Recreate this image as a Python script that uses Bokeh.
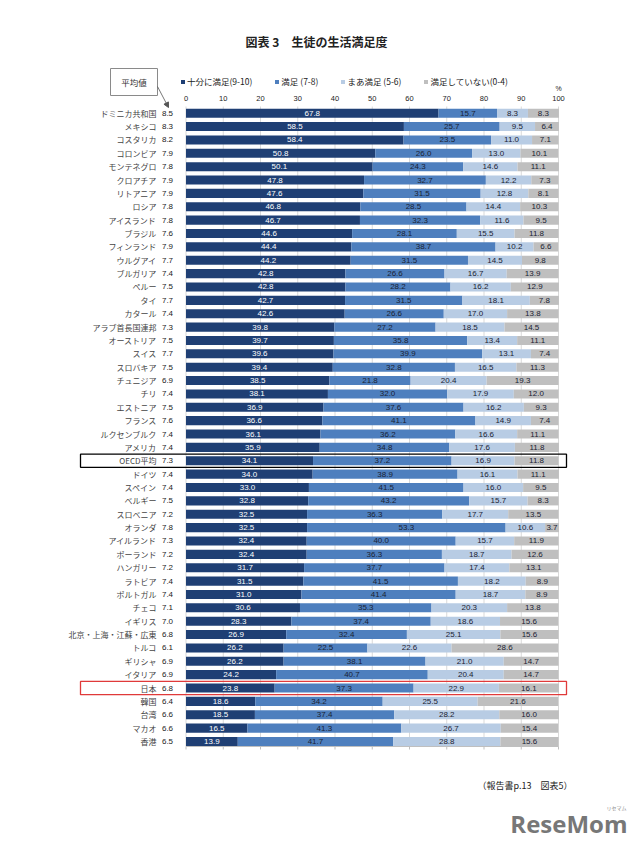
from bokeh.plotting import figure
from bokeh.models import ColumnDataSource, Range1d, Legend, LegendItem, Arrow, NormalHead
from bokeh.core.properties import value
from bokeh.embed import file_html
from bokeh.resources import INLINE

countries = ["ドミニカ共和国", "メキシコ", "コスタリカ", "コロンビア", "モンテネグロ", "クロアチア",
             "リトアニア", "ロシア", "アイスランド", "ブラジル", "フィンランド", "ウルグアイ",
             "ブルガリア", "ペルー", "タイ", "カタール", "アラブ首長国連邦", "オーストリア",
             "スイス", "スロバキア", "チュニジア", "チリ", "エストニア", "フランス",
             "ルクセンブルク", "アメリカ", "OECD平均", "ドイツ", "スペイン", "ベルギー",
             "スロベニア", "オランダ", "アイルランド", "ポーランド", "ハンガリー", "ラトビア",
             "ポルトガル", "チェコ", "イギリス", "北京・上海・江蘇・広東", "トルコ", "ギリシャ",
             "イタリア", "日本", "韓国", "台湾", "マカオ", "香港"]
avg = [8.5, 8.3, 8.2, 7.9, 7.8, 7.9, 7.9, 7.8, 7.8, 7.6, 7.9, 7.7, 7.4, 7.5, 7.7, 7.4,
       7.3, 7.5, 7.7, 7.5, 6.9, 7.4, 7.5, 7.6, 7.4, 7.4, 7.3, 7.4, 7.4, 7.5, 7.2, 7.8,
       7.3, 7.2, 7.2, 7.4, 7.4, 7.1, 7.0, 6.8, 6.1, 6.9, 6.9, 6.8, 6.4, 6.6, 6.6, 6.5]
very_satisfied = [67.8, 58.5, 58.4, 50.8, 50.1, 47.8, 47.6, 46.8, 46.7, 44.6, 44.4, 44.2,
                  42.8, 42.8, 42.7, 42.6, 39.8, 39.7, 39.6, 39.4, 38.5, 38.1, 36.9, 36.6,
                  36.1, 35.9, 34.1, 34.0, 33.0, 32.8, 32.5, 32.5, 32.4, 32.4, 31.7, 31.5,
                  31.0, 30.6, 28.3, 26.9, 26.2, 26.2, 24.2, 23.8, 18.6, 18.5, 16.5, 13.9]
satisfied = [15.7, 25.7, 23.5, 26.0, 24.3, 32.7, 31.5, 28.5, 32.3, 28.1, 38.7, 31.5,
             26.6, 28.2, 31.5, 26.6, 27.2, 35.8, 39.9, 32.8, 21.8, 32.0, 37.6, 41.1,
             36.2, 34.8, 37.2, 38.9, 41.5, 43.2, 36.3, 53.3, 40.0, 36.3, 37.7, 41.5,
             41.4, 35.3, 37.4, 32.4, 22.5, 38.1, 40.7, 37.3, 34.2, 37.4, 41.3, 41.7]
moderately = [8.3, 9.5, 11.0, 13.0, 14.6, 12.2, 12.8, 14.4, 11.6, 15.5, 10.2, 14.5,
              16.7, 16.2, 18.1, 17.0, 18.5, 13.4, 13.1, 16.5, 20.4, 17.9, 16.2, 14.9,
              16.6, 17.6, 16.9, 16.1, 16.0, 15.7, 17.7, 10.6, 15.7, 18.7, 17.4, 18.2,
              18.7, 20.3, 18.6, 25.1, 22.6, 21.0, 20.4, 22.9, 25.5, 28.2, 26.7, 28.8]
not_satisfied = [8.3, 6.4, 7.1, 10.1, 11.1, 7.3, 8.1, 10.3, 9.5, 11.8, 6.6, 9.8,
                 13.9, 12.9, 7.8, 13.8, 14.5, 11.1, 7.4, 11.3, 19.3, 12.0, 9.3, 7.4,
                 11.1, 11.8, 11.8, 11.1, 9.5, 8.3, 13.5, 3.7, 11.9, 12.6, 13.1, 8.9,
                 8.9, 13.8, 15.6, 15.6, 28.6, 14.7, 14.7, 16.1, 21.6, 16.0, 15.4, 15.6]
series_names = ["十分に満足(9-10)", "満足 (7-8)", "まあ満足 (5-6)", "満足していない(0-4)"]
ticks = [0, 10, 20, 30, 40, 50, 60, 70, 80, 90, 100]

# ---- layout helpers (screen pixel -> data coordinates) ----
W, H = 630, 835
X0_IMG, X100_IMG = 185.5, 558.0
SX = (X100_IMG - X0_IMG) / 100.0
n = len(countries)
ROW0_IMG, ROWN_IMG = 112.7, 741.0
SY = (ROWN_IMG - ROW0_IMG) / (n - 1)


def dx(ximg):
    return (ximg - X0_IMG) / SX


def dy(yimg):
    return (yimg - ROW0_IMG) / SY


JP = value("Noto Sans CJK JP")
NUM = value("Liberation Sans")

p = figure(width=W, height=H, output_backend="svg", toolbar_location=None,
           x_axis_type=None, y_axis_type=None, min_border=0,
           x_range=Range1d(dx(0), dx(W)), y_range=Range1d(dy(H), dy(0)))
p.outline_line_color = None
p.grid.visible = False
p.background_fill_color = "white"
p.border_fill_color = "white"

rows = list(range(n))

# vertical gridlines
p.segment(x0=ticks, x1=ticks, y0=[dy(106)] * len(ticks), y1=[dy(746)] * len(ticks),
          line_color="#d9d9d9", line_width=1)
# bottom axis with ticks
p.segment(x0=[0], x1=[100], y0=[dy(746)], y1=[dy(746)], line_color="#bfbfbf", line_width=1)
p.segment(x0=ticks, x1=ticks, y0=[dy(746)] * len(ticks), y1=[dy(749)] * len(ticks),
          line_color="#bfbfbf", line_width=1)

colors = ["#1f3f74", "#4e7fbe", "#b8cce4", "#bfbfbf"]
label_colors = ["white", "#1a2233", "#1a2233", "#1a2233"]
series = [very_satisfied, satisfied, moderately, not_satisfied]

left = [0.0] * n
renderers = []
for vals, col, lcol in zip(series, colors, label_colors):
    right = [l + v for l, v in zip(left, vals)]
    src = ColumnDataSource(dict(y=rows, left=left, right=right,
                                mid=[(l + r) / 2 for l, r in zip(left, right)],
                                lab=[f"{v:.1f}" for v in vals]))
    r = p.hbar(y="y", left="left", right="right", height=0.68, source=src,
               fill_color=col, line_color=None)
    renderers.append(r)
    p.text(x="mid", y="y", text="lab", source=src, text_align="center",
           text_baseline="middle", text_font=NUM, text_font_size="8px", text_color=lcol)
    left = right

# country labels and averages
lab_src = ColumnDataSource(dict(y=rows, c=countries, a=[f"{v:.1f}" for v in avg],
                                x1=[dx(156)] * n, x2=[dx(167)] * n))
p.text(x="x1", y="y", text="c", source=lab_src, text_align="right", text_baseline="middle",
       text_font=JP, text_font_size="8px", text_color="#444444")
p.text(x="x2", y="y", text="a", source=lab_src, text_align="center", text_baseline="middle",
       text_font=NUM, text_font_size="8px", text_color="#222222")

# top tick labels
p.text(x=ticks, y=[dy(98)] * len(ticks), text=[str(t) for t in ticks], text_align="center",
       text_baseline="middle", text_font=NUM, text_font_size="7.5px", text_color="#222222")
p.text(x=[dx(558)], y=[dy(88)], text=["%"], text_align="center", text_baseline="middle",
       text_font=NUM, text_font_size="7px", text_color="#222222")

# highlight boxes
i_oecd = countries.index("OECD平均")
i_jp = countries.index("日本")
half = 6.6 / SY
p.quad(left=[dx(80)], right=[dx(566)], top=[i_oecd - half], bottom=[i_oecd + half],
       fill_color=None, line_color="black", line_width=1.3)
p.quad(left=[dx(80)], right=[dx(566)], top=[i_jp - half], bottom=[i_jp + half],
       fill_color=None, line_color="#e03a3a", line_width=1.3)

# 平均値 box + arrow
p.quad(left=[dx(110)], right=[dx(157)], top=[dy(68)], bottom=[dy(95)],
       fill_color="white", line_color="#8a8a8a", line_width=1)
p.text(x=[dx(133.5)], y=[dy(81.5)], text=["平均値"], text_align="center",
       text_baseline="middle", text_font=JP, text_font_size="8.5px", text_color="#333333")
p.add_layout(Arrow(end=NormalHead(size=5, fill_color="#555555", line_color="#555555"),
                   x_start=dx(157), y_start=dy(86), x_end=dx(168), y_end=dy(107),
                   line_color="#555555", line_width=0.8))

# title
p.text(x=[dx(316)], y=[dy(41)], text=["図表 3　生徒の生活満足度"], text_align="center",
       text_baseline="middle", text_font=JP, text_font_size="12px",
       text_font_style="bold", text_color="#222222")

# footer
p.text(x=[dx(572)], y=[dy(785)], text=["（報告書p.13　図表5）"], text_align="right",
       text_baseline="middle", text_font=JP, text_font_size="9px", text_color="#222222")
p.text(x=[dx(627)], y=[dy(823)], text=["ReseMom"], text_align="right",
       text_baseline="middle", text_font=value("Open Sans"), text_font_size="24px",
       text_font_style="bold", text_color="#777777")
p.text(x=[dx(616)], y=[dy(807)], text=["リセマム"], text_align="center",
       text_baseline="middle", text_font=JP, text_font_size="5px", text_color="#888888")

legend = Legend(items=[LegendItem(label=nm, renderers=[r]) for nm, r in zip(series_names, renderers)],
                orientation="horizontal", location=(180, H - 87),
                glyph_width=5, glyph_height=5, label_standoff=2, spacing=22,
                label_text_font="Noto Sans CJK JP", label_text_font_size="8.5px",
                label_text_color="#222222",
                label_height=10, label_width=10, padding=0, margin=0,
                background_fill_alpha=0, border_line_alpha=0)
p.add_layout(legend)

open("out.html", "w").write(file_html(p, INLINE))
